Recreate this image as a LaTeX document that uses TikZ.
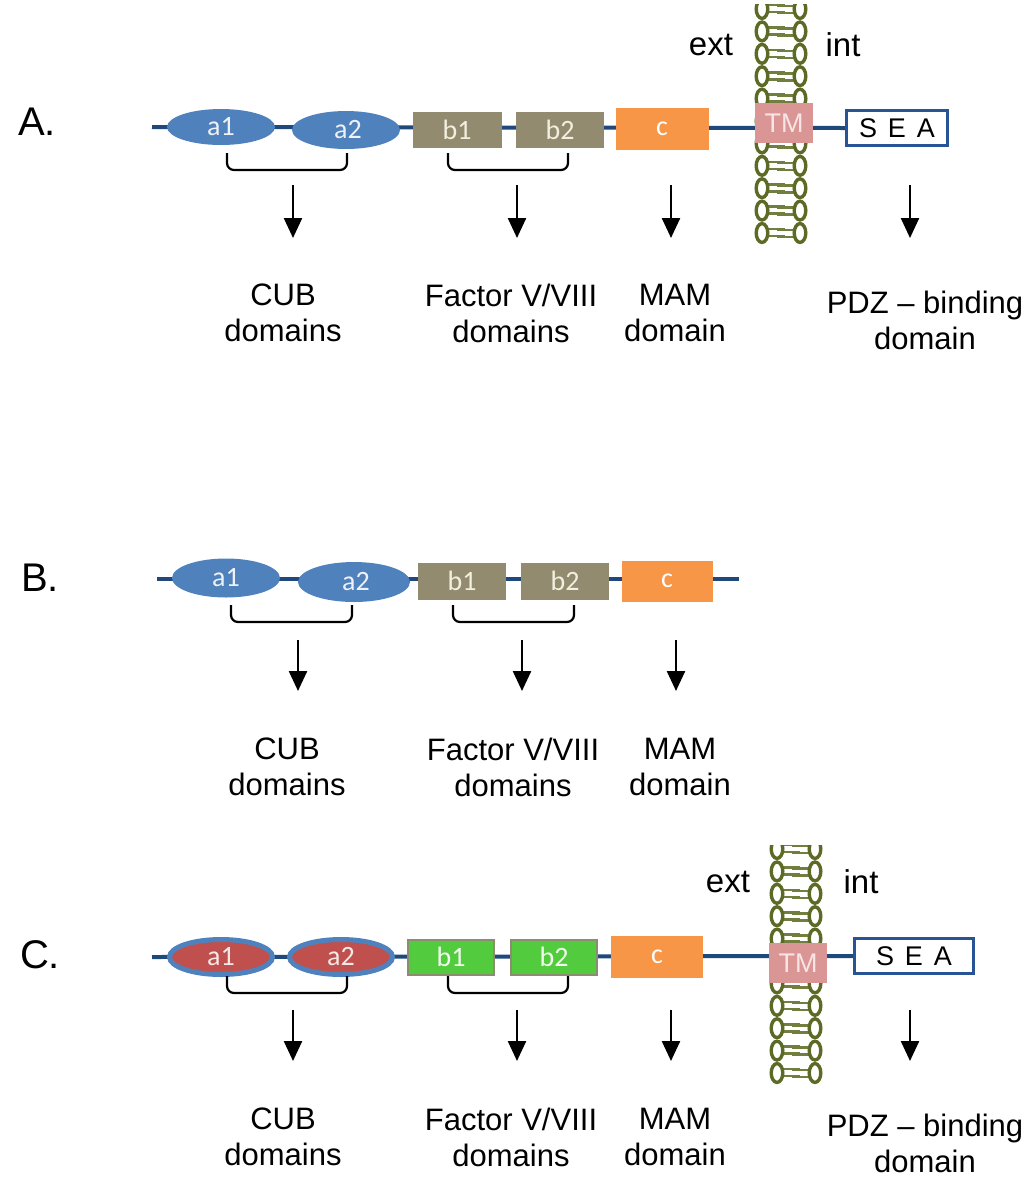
\documentclass[tikz,border=0pt]{standalone}
\usepackage{fontspec}
\setmainfont{Liberation Sans}
\newfontfamily\calib{Carlito}
\usetikzlibrary{shapes.geometric,arrows.meta,backgrounds}
\definecolor{linecol}{RGB}{31,73,125}
\definecolor{cubblue}{RGB}{79,129,189}
\definecolor{cubred}{RGB}{192,80,77}
\definecolor{boxgray}{RGB}{147,139,112}
\definecolor{boxgreen}{RGB}{82,204,62}
\definecolor{greenedge}{RGB}{140,140,112}
\definecolor{mamorange}{RGB}{247,150,70}
\definecolor{tmpink}{RGB}{217,150,148}
\definecolor{lipid}{RGB}{92,106,38}
\definecolor{lipidtail}{RGB}{112,126,62}
\definecolor{seaedge}{RGB}{40,84,150}
\tikzset{
  backbone/.style={draw=linecol, line width=4pt},
  cubdom/.style={ellipse, fill=cubblue, minimum width=108pt, minimum height=36pt, inner sep=0pt,
     text={rgb,255:red,238;green,242;blue,248}, font=\calib\fontsize{28}{28}\selectfont},
  cubdomC/.style={ellipse, fill=cubred, draw=cubblue, line width=5pt, minimum width=103pt, minimum height=35pt, inner sep=0pt,
     text={rgb,255:red,245;green,232;blue,230}, font=\calib\fontsize{28}{28}\selectfont},
  fdom/.style={rectangle, fill=boxgray, minimum width=88pt, minimum height=36pt, inner sep=0pt,
     text={rgb,255:red,242;green,239;blue,222}, font=\calib\fontsize{28}{28}\selectfont},
  fdomC/.style={rectangle, fill=boxgreen, draw=greenedge, line width=2pt, minimum width=86pt, minimum height=35pt, inner sep=0pt,
     text={rgb,255:red,240;green,250;blue,235}, font=\calib\fontsize{28}{28}\selectfont},
  mamdom/.style={rectangle, fill=mamorange, minimum width=92pt, minimum height=42pt, inner sep=0pt,
     text=white, font=\calib\fontsize{28}{28}\selectfont},
  tmdom/.style={rectangle, fill=tmpink, minimum width=58pt, minimum height=40pt, inner sep=0pt,
     text={rgb,255:red,248;green,228;blue,228}, font=\fontsize{27}{27}\selectfont},
  seadom/.style={rectangle, fill=white, draw=seaedge, line width=3pt, minimum height=35pt, inner sep=0pt,
     text=black, font=\fontsize{27}{27}\selectfont},
  bracket/.style={draw=black, line width=2.2pt, rounded corners=7pt},
  arrowdown/.style={draw=black, line width=2.4pt, -{Triangle[width=18pt,length=20pt]}},
  domlabel/.style={align=center, font=\fontsize{31}{36}\selectfont, inner sep=0pt},
  sidelabel/.style={font=\fontsize{33}{33}\selectfont, inner sep=0pt},
  panellabel/.style={font=\fontsize{40}{40}\selectfont, inner sep=0pt},
  headc/.style={draw=lipid, line width=3.4pt, fill=white},
  tailc/.style={draw=lipidtail, line width=2.6pt}
}
\newcommand{\drawmembrane}[3]{%
  \begin{scope}
    \clip (#1-6,#3) rectangle (#1+62,#2+252);
    \foreach \k in {0,...,10}{
      \pgfmathsetmacro{\yy}{#2+22.4*\k}
      \draw[tailc] (#1+12,\yy-4) -- (#1+30,\yy-4) (#1+12,\yy+3) -- (#1+30,\yy+3);
      \draw[tailc] (#1+22,\yy-3) -- (#1+40,\yy-3) (#1+22,\yy+4) -- (#1+40,\yy+4);
      \draw[headc] (#1+7,\yy) ellipse [x radius=5.8, y radius=9.4];
      \draw[headc] (#1+45,\yy) ellipse [x radius=5.8, y radius=9.4];
    }
  \end{scope}}
\begin{document}
\begin{tikzpicture}[x=1pt,y=-1pt]
\useasboundingbox (0,0) rectangle (1024,1187);
% ================= Panel A =================
\node[panellabel] (labA) at (37,122) {A.};
\drawmembrane{755}{9}{4}
\node[sidelabel] (extA) at (711,45) {ext};
\node[sidelabel] (intA) at (843,45) {int};
\coordinate (startA) at (152,127);
\node[cubdom] (a1A) at (221,127) {a1};
\node[cubdom, minimum height=38pt] (a2A) at (346,130) {\hspace*{4pt}a2};
\node[fdom, minimum width=89pt] (b1A) at (457,130) {b1};
\node[fdom] (b2A) at (560,130) {b2};
\node[mamdom, minimum width=93pt] (cA) at (662,129) {c};
\node[tmdom] (tmA) at (784,123) {TM};
\node[seadom, minimum width=101pt] (seaA) at (897,128) {S\hspace{0.4em}E\hspace{0.4em}A};
\begin{scope}[on background layer]
  \draw[backbone] (startA) -- (seaA.west);
\end{scope}
\coordinate (brA1l) at (227,153); \coordinate (brA1r) at (347,153);
\coordinate (brA2l) at (448,153); \coordinate (brA2r) at (568,153);
\draw[bracket] (brA1l) -- ++(0,17) -| (brA1r);
\draw[bracket] (brA2l) -- ++(0,17) -| (brA2r);
\coordinate (arA1s) at (293,185); \coordinate (arA1e) at (293,238);
\coordinate (arA2s) at (517,185); \coordinate (arA2e) at (517,238);
\coordinate (arA3s) at (671,185); \coordinate (arA3e) at (671,238);
\coordinate (arA4s) at (910,185); \coordinate (arA4e) at (910,238);
\draw[arrowdown] (arA1s) -- (arA1e);
\draw[arrowdown] (arA2s) -- (arA2e);
\draw[arrowdown] (arA3s) -- (arA3e);
\draw[arrowdown] (arA4s) -- (arA4e);
\node[domlabel] (lcubA) at (283,313) {CUB\\domains};
\node[domlabel] (lfacA) at (511,313) {Factor V/VIII\\domains};
\node[domlabel] (lmamA) at (675,313) {MAM\\domain};
\node[domlabel] (lpdzA) at (925,320) {PDZ -- binding\\domain};
% ================= Panel B =================
\node[panellabel] (labB) at (40,578) {B.};
\coordinate (startB) at (157,579);
\coordinate (endB) at (739,579);
\node[cubdom, minimum height=39pt] (a1B) at (226,578) {a1};
\node[cubdom, minimum width=112pt, minimum height=40pt] (a2B) at (354,582) {\hspace*{4pt}a2};
\node[fdom, minimum height=37pt] (b1B) at (462,581) {b1};
\node[fdom, minimum height=37pt] (b2B) at (565,581) {b2};
\node[mamdom, minimum width=91pt, minimum height=41pt] (cB) at (667,581) {c};
\begin{scope}[on background layer]
  \draw[backbone] (startB) -- (endB);
\end{scope}
\coordinate (brB1l) at (231,605); \coordinate (brB1r) at (352,605);
\coordinate (brB2l) at (453,605); \coordinate (brB2r) at (574,605);
\draw[bracket] (brB1l) -- ++(0,17) -| (brB1r);
\draw[bracket] (brB2l) -- ++(0,17) -| (brB2r);
\coordinate (arB1s) at (298,640); \coordinate (arB1e) at (298,691);
\coordinate (arB2s) at (522,640); \coordinate (arB2e) at (522,691);
\coordinate (arB3s) at (676,640); \coordinate (arB3e) at (676,691);
\draw[arrowdown] (arB1s) -- (arB1e);
\draw[arrowdown] (arB2s) -- (arB2e);
\draw[arrowdown] (arB3s) -- (arB3e);
\node[domlabel] (lcubB) at (287,767) {CUB\\domains};
\node[domlabel] (lfacB) at (513,767) {Factor V/VIII\\domains};
\node[domlabel] (lmamB) at (680,767) {MAM\\domain};
% ================= Panel C =================
\node[panellabel] (labC) at (40,955) {C.};
\drawmembrane{770}{849}{845}
\node[sidelabel] (extC) at (728,882) {ext};
\node[sidelabel] (intC) at (861,882) {int};
\coordinate (startC) at (152,957);
\node[cubdomC] (a1C) at (221,957) {a1};
\node[cubdomC] (a2C) at (341,957) {a2};
\node[fdomC] (b1C) at (451,957) {b1};
\node[fdomC] (b2C) at (554,957) {b2};
\node[mamdom, minimum width=92pt] (cC) at (657,957) {c};
\node[tmdom] (tmC) at (798,963) {TM};
\node[seadom, minimum width=119pt] (seaC) at (914,956) {S\hspace{0.4em}E\hspace{0.4em}A};
\begin{scope}[on background layer]
  \draw[backbone] (startC) -- (seaC.west);
\end{scope}
\coordinate (brC1l) at (227,976); \coordinate (brC1r) at (347,976);
\coordinate (brC2l) at (448,976); \coordinate (brC2r) at (568,976);
\draw[bracket] (brC1l) -- ++(0,17) -| (brC1r);
\draw[bracket] (brC2l) -- ++(0,17) -| (brC2r);
\coordinate (arC1s) at (293,1010); \coordinate (arC1e) at (293,1061);
\coordinate (arC2s) at (517,1010); \coordinate (arC2e) at (517,1061);
\coordinate (arC3s) at (671,1010); \coordinate (arC3e) at (671,1061);
\coordinate (arC4s) at (910,1010); \coordinate (arC4e) at (910,1061);
\draw[arrowdown] (arC1s) -- (arC1e);
\draw[arrowdown] (arC2s) -- (arC2e);
\draw[arrowdown] (arC3s) -- (arC3e);
\draw[arrowdown] (arC4s) -- (arC4e);
\node[domlabel] (lcubC) at (283,1137) {CUB\\domains};
\node[domlabel] (lfacC) at (511,1137) {Factor V/VIII\\domains};
\node[domlabel] (lmamC) at (675,1137) {MAM\\domain};
\node[domlabel] (lpdzC) at (925,1143) {PDZ -- binding\\domain};
\end{tikzpicture}
\end{document}
